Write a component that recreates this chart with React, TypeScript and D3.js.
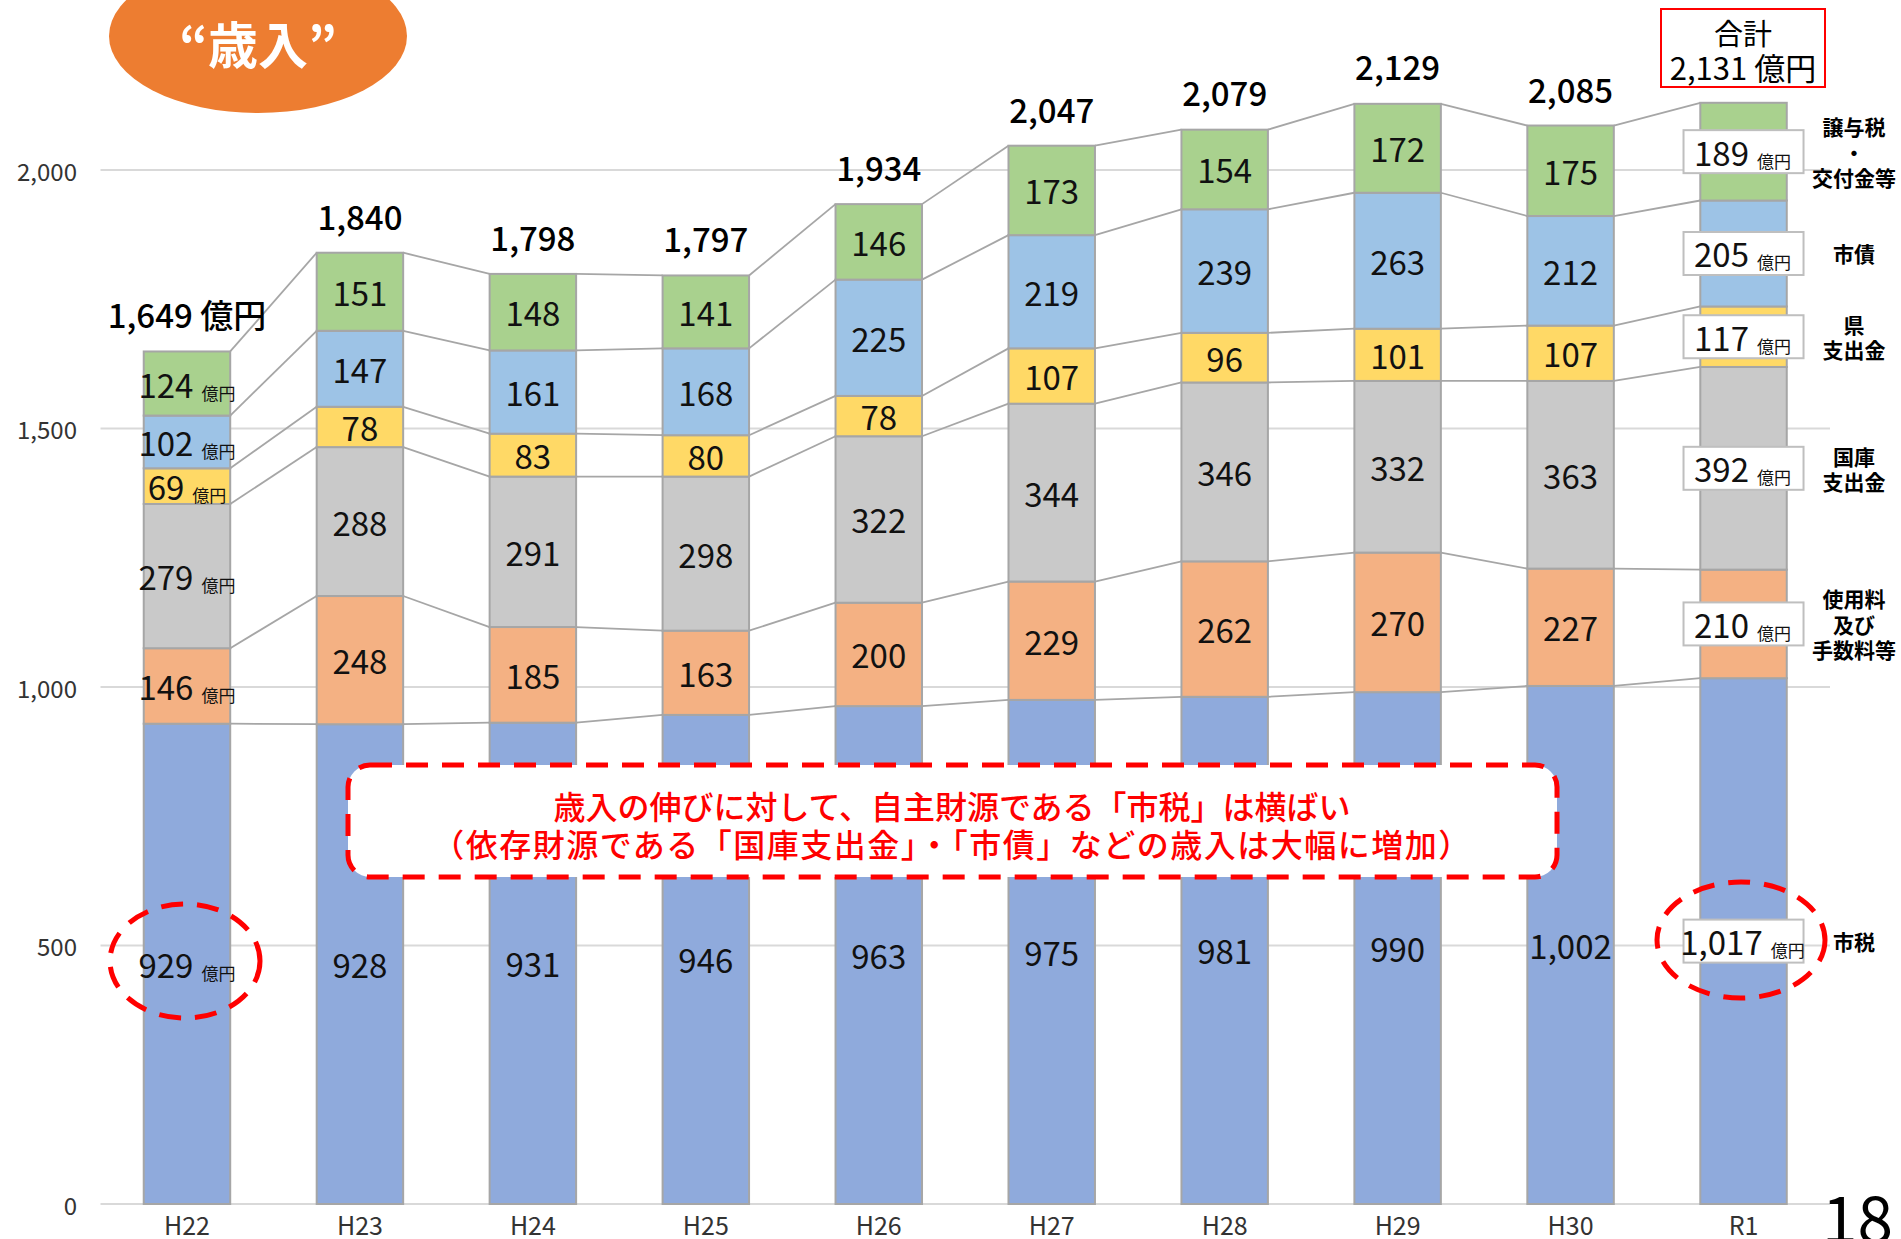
import React from 'react';
import * as d3 from 'd3';

const categories = ['H22', 'H23', 'H24', 'H25', 'H26', 'H27', 'H28', 'H29', 'H30', 'R1'];
const cityTax = [929, 928, 931, 946, 963, 975, 981, 990, 1002, 1017];
const fees = [146, 248, 185, 163, 200, 229, 262, 270, 227, 210];
const nationalGrant = [279, 288, 291, 298, 322, 344, 346, 332, 363, 392];
const prefGrant = [69, 78, 83, 80, 78, 107, 96, 101, 107, 117];
const cityBonds = [102, 147, 161, 168, 225, 219, 239, 263, 212, 205];
const transferTax = [124, 151, 148, 141, 146, 173, 154, 172, 175, 189];
const totals = [1649, 1840, 1798, 1797, 1934, 2047, 2079, 2129, 2085, 2131];
const yTicks = [0, 500, 1000, 1500, 2000];

const seriesValues = [cityTax, fees, nationalGrant, prefGrant, cityBonds, transferTax];
const seriesColors = ['#8FAADC', '#F4B183', '#C9C9C9', '#FFD966', '#9DC3E6', '#A9D18E'];
const seriesLabels = [
  ['市税'],
  ['使用料', '及び', '手数料等'],
  ['国庫', '支出金'],
  ['県', '支出金'],
  ['市債'],
  ['譲与税', '・', '交付金等'],
];

const W = 1901;
const H = 1239;
const FONT = '"Noto Sans CJK JP", "Noto Sans", sans-serif';

export default function App() {
  const x = d3.scaleBand<string>()
    .domain(categories)
    .range([100.5, 1830])
    .paddingInner(0.5)
    .paddingOuter(0.25);
  const y = d3.scaleLinear().domain([0, 2000]).range([1204, 170]);
  const bw = x.bandwidth();
  const fmt = d3.format(',');

  const stacked = d3.stack<number>()
    .keys(seriesValues.map((_, k) => String(k)))
    .value((i, key) => seriesValues[+key][i])(categories.map((_, i) => i));

  const last = categories.length - 1;

  return (
    <svg width={W} height={H} style={{ position: 'absolute', left: 0, top: 0, background: '#fff' }} fontFamily={FONT}>
      {/* title ellipse */}
      <ellipse cx={258} cy={36} rx={149} ry={77} fill="#ED7D31" />
      <text x={258} y={42} textAnchor="middle" dominantBaseline="central" fill="#fff" fontSize={50} fontWeight={700}>“歳入”</text>

      {/* grid */}
      {yTicks.map(t => (
        <g key={t}>
          <line x1={100.5} x2={1830} y1={y(t)} y2={y(t)} stroke="#D9D9D9" strokeWidth={2} />
          <text x={77} y={y(t)} textAnchor="end" dominantBaseline="central" fontSize={24} fill="#333">{fmt(t)}</text>
        </g>
      ))}

      {/* connector lines */}
      {stacked.map((layer, k) => (
        <g key={'c' + k}>
          {layer.slice(0, -1).map((d, i) => (
            <line key={i}
              x1={(x(categories[i]) || 0) + bw} y1={y(d[1])}
              x2={x(categories[i + 1]) || 0} y2={y(layer[i + 1][1])}
              stroke="#A6A6A6" strokeWidth={1.8} />
          ))}
        </g>
      ))}

      {/* bars */}
      {stacked.map((layer, k) => (
        <g key={'b' + k}>
          {layer.map((d, i) => (
            <rect key={i} x={x(categories[i])} y={y(d[1])} width={bw} height={y(d[0]) - y(d[1])}
              fill={seriesColors[k]} stroke="#A6A6A6" strokeWidth={2} />
          ))}
        </g>
      ))}

      {/* segment labels */}
      {stacked.map((layer, k) => (
        <g key={'l' + k}>
          {layer.map((d, i) => {
            const cx = (x(categories[i]) || 0) + bw / 2;
            const cy = (y(d[0]) + y(d[1])) / 2;
            const v = seriesValues[k][i];
            if (i === last) {
              return (
                <g key={i}>
                  <rect x={cx - 60} y={cy - 21.5} width={120} height={43} fill="#fff" stroke="#BFBFBF" strokeWidth={2} />
                  <text x={cx - 1} y={cy} textAnchor="middle" dominantBaseline="central" fill="#111">
                    <tspan fontSize={33}>{fmt(v)}</tspan>
                    <tspan fontSize={17} dx={8} dy={8}>億円</tspan>
                  </text>
                </g>
              );
            }
            if (i === 0) {
              return (
                <text key={i} x={cx} y={cy} textAnchor="middle" dominantBaseline="central" fill="#111">
                  <tspan fontSize={33}>{fmt(v)}</tspan>
                  <tspan fontSize={17} dx={8} dy={8}>億円</tspan>
                </text>
              );
            }
            return (
              <text key={i} x={cx} y={cy} textAnchor="middle" dominantBaseline="central" fontSize={33} fill="#111">{fmt(v)}</text>
            );
          })}
        </g>
      ))}

      {/* totals */}
      {totals.slice(0, -1).map((t, i) => (
        <text key={'t' + i} x={(x(categories[i]) || 0) + bw / 2} y={y(t) - 37} textAnchor="middle" dominantBaseline="central" fontSize={33} fontWeight={500} fill="#000">
          {i === 0 ? `${fmt(t)} 億円` : fmt(t)}
        </text>
      ))}

      {/* R1 total box */}
      <rect x={1661} y={9} width={164} height={78} fill="#fff" stroke="#FF0000" strokeWidth={2} />
      <text x={1743} y={32} textAnchor="middle" dominantBaseline="central" fontSize={29} fill="#000">合計</text>
      <text x={1743} y={66} textAnchor="middle" dominantBaseline="central" fontSize={31} fill="#000">{fmt(totals[last])} 億円</text>

      {/* x axis labels */}
      {categories.map(c => (
        <text key={c} x={(x(c) || 0) + bw / 2} y={1224} textAnchor="middle" dominantBaseline="central" fontSize={25} fill="#333">{c}</text>
      ))}

      {/* series names on the right */}
      {stacked.map((layer, k) => {
        const d = layer[last];
        const cy = (y(d[0]) + y(d[1])) / 2;
        const lines = seriesLabels[k];
        const lh = 25.5;
        return (
          <text key={'s' + k} x={1854} textAnchor="middle" fontSize={21} fontWeight={700} fill="#000">
            {lines.map((ln, j) => (
              <tspan key={j} x={1854} y={cy + (j - (lines.length - 1) / 2) * lh} dominantBaseline="central">{ln}</tspan>
            ))}
          </text>
        );
      })}

      {/* red dashed callouts */}
      <ellipse cx={185} cy={961} rx={75} ry={57} fill="none" stroke="#FF0000" strokeWidth={5} strokeDasharray="22 14" />
      <ellipse cx={1741} cy={940} rx={84} ry={58} fill="none" stroke="#FF0000" strokeWidth={5} strokeDasharray="22 14" />
      <rect x={348} y={765} width={1209} height={112} rx={22} fill="#fff" stroke="#FF0000" strokeWidth={5} strokeDasharray="22 14" />
      <text x={952} y={805} textAnchor="middle" dominantBaseline="central" fontSize={32} fontWeight={500} fill="#FF0000">歳入の伸びに対して、自主財源である「市税」は横ばい</text>
      <text x={952} y={843} textAnchor="middle" dominantBaseline="central" fontSize={32} fontWeight={500} letterSpacing={1.5} fill="#FF0000">（依存財源である「国庫支出金」・「市債」などの歳入は大幅に増加）</text>

      {/* page number */}
      <text x={1893} y={1243} textAnchor="end" fontSize={64} fill="#000">18</text>
    </svg>
  );
}
